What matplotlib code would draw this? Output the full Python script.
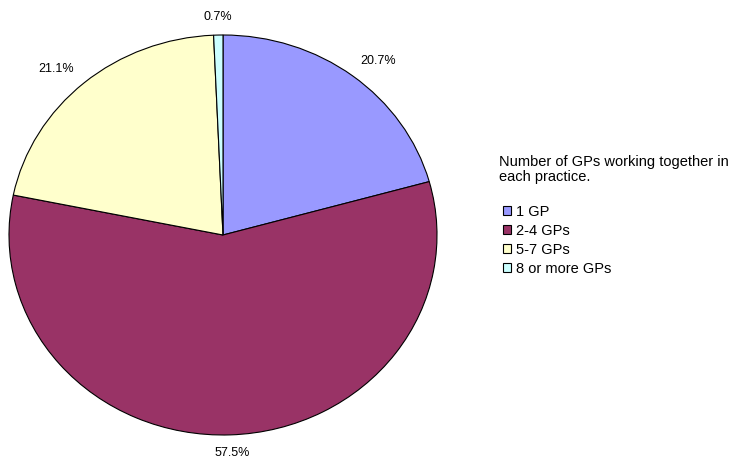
import numpy as np
import matplotlib.pyplot as plt

plt.rcParams['font.family'] = ['Liberation Sans', 'DejaVu Sans']

# data
categories = ['1 GP', '2-4 GPs', '5-7 GPs', '8 or more GPs']
shares = [20.7, 57.5, 21.1, 0.7]
colors = ['#9999FF', '#993366', '#FFFFCC', '#CCFFFF']
legend_title = ['Number of GPs working together in', 'each practice.']

fig = plt.figure(figsize=(7.29, 4.59), dpi=100)
W, H = 729, 459
# pie is drawn slightly elliptical like the original
ax = fig.add_axes([9 / W, (H - 435) / H, 428 / W, 400 / H])

wedges, texts, autotexts = ax.pie(
    shares, colors=colors, startangle=90, counterclock=False,
    autopct='%1.1f%%', pctdistance=1.0,
    wedgeprops=dict(edgecolor='black', linewidth=0.8),
    textprops=dict(fontsize=9, color='black'))
ax.set_aspect('auto')
ax.set_xlim(-1, 1)
ax.set_ylim(-1, 1)

# push labels out a bit more sideways than up/down
for t in autotexts:
    x, y = t.get_position()
    t.set_position((x * 1.2, y * 1.09))
    t.set_clip_on(False)

for i, line in enumerate(legend_title):
    fig.text(499 / W, 1 - (162 + 15 * i) / H, line, fontsize=10.5,
             ha='left', va='center')

leg = fig.legend(wedges, categories, loc='upper left',
                 bbox_to_anchor=(497 / W, 1 - 199 / H),
                 frameon=False, fontsize=10.5,
                 handlelength=0.55, handleheight=0.55, handletextpad=0.35,
                 labelspacing=0.34, borderaxespad=0)
for h in leg.legend_handles:
    h.set_linewidth(0.8)

fig.savefig('out.png', dpi=100)
